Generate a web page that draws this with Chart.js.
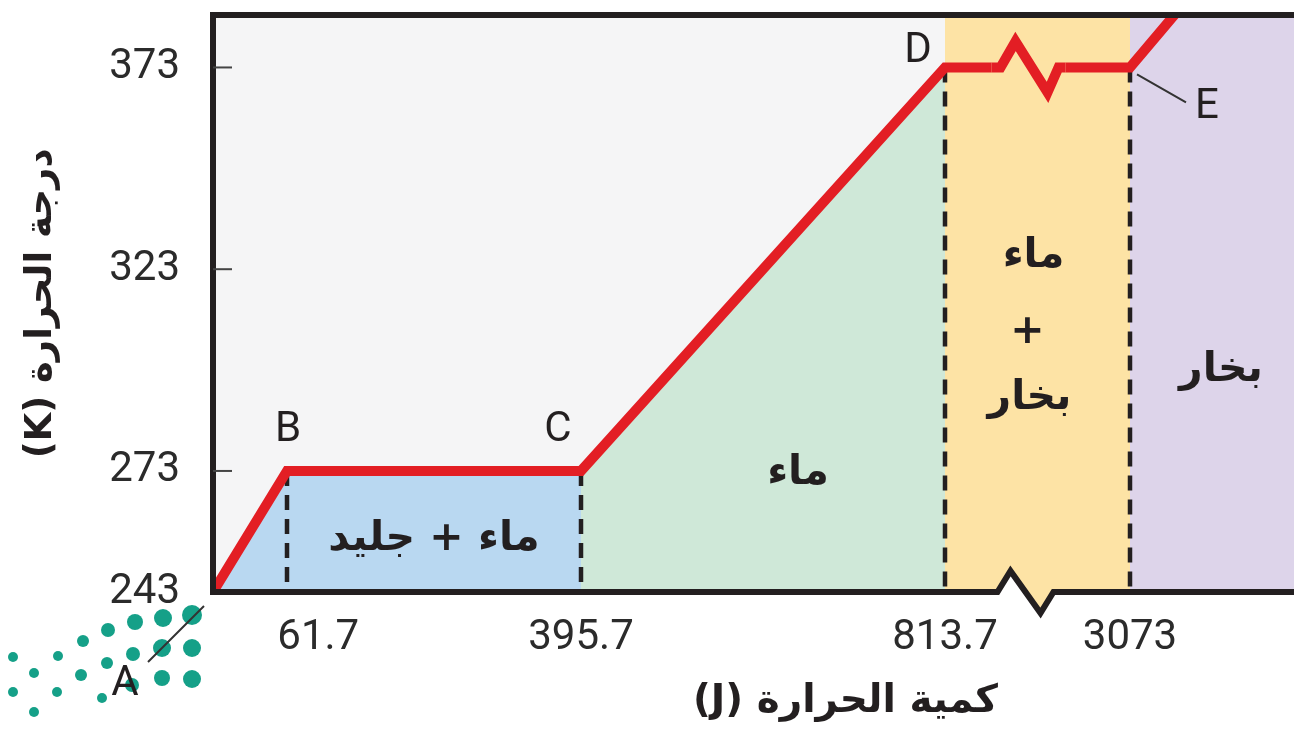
<!DOCTYPE html>
<html lang="ar">
<head>
<meta charset="UTF-8">
<title>منحنى تسخين الماء</title>
<script src="https://cdn.jsdelivr.net/npm/chart.js@4"></script>
<style>
  html, body { margin: 0; padding: 0; background: #fff; }
  #wrap { width: 1294px; height: 732px; }
</style>
</head>
<body>
<div id="wrap"><canvas id="heatChart"></canvas></div>
<script>
// قيم المنحنى (كمية الحرارة J ودرجة الحرارة K)
const heatTicks = [61.7, 395.7, 813.7, 3073];
const tempTicks = [243, 273, 323, 373];
const curveHeat = [0, 61.7, 395.7, 813.7, 3073, 3110];
const curveTemp = [243, 273, 273, 373, 373, 387];
const pointNames = ['A', 'B', 'C', 'D', 'E'];
const phaseNames = ['ماء + جليد', 'ماء', 'ماء', '+', 'بخار', 'بخار'];

// المحور الأفقي مكسور بين 813.7 و 3073
const breakHeat = [0, 61.7, 395.7, 813.7, 3073, 3200];
const breakAxis = [0, 74, 368, 732, 917, 1081];
const yMin = 243, yTop = 386;

function toAxis(q) {
  let i = 1;
  while (i < breakHeat.length - 1 && q > breakHeat[i]) i++;
  const h0 = breakHeat[i - 1], h1 = breakHeat[i];
  const a0 = breakAxis[i - 1], a1 = breakAxis[i];
  return a0 + (q - h0) * (a1 - a0) / (h1 - h0);
}
const xMax = breakAxis[breakAxis.length - 1];

const RED = '#e31e24', DARK = '#231f20', GREY = '#f5f5f6';
const BLUE = '#b9d8f1', GREEN = '#cfe8d8', ORANGE = '#fde3a5', PURPLE = '#ddd4ea';
const TEAL = '#15a088';

const pts = (from, to) => curveHeat.slice(from, to).map((h, i) => ({ x: toAxis(h), y: curveTemp[from + i] }));
const band = (h0, x1) => [{ x: toAxis(h0), y: yTop }, { x: x1, y: yTop }];

const dashData = [];
heatTicks.forEach(h => {
  const t = curveTemp[curveHeat.indexOf(h)];
  dashData.push({ x: toAxis(h), y: t }, { x: toAxis(h), y: yMin }, { x: toAxis(h), y: null });
});

const fillSet = (data, color, order) => ({
  data, fill: 'start', backgroundColor: color, borderColor: 'rgba(0,0,0,0)', borderWidth: 0, pointRadius: 0, order
});

// الزخارف: علامات الكسر والإطار والتسميات
const decor = {
  id: 'decor',
  afterDatasetsDraw(chart) {
    const { ctx, chartArea: a, scales: { x, y } } = chart;
    const X = q => x.getPixelForValue(toAxis(q));
    const Y = t => y.getPixelForValue(t);
    const cx = (X(813.7) + X(3073)) / 2;
    const yp = Y(373);
    ctx.save();

    // كسر الخط الأحمر
    ctx.fillStyle = ORANGE;
    ctx.fillRect(cx - 46, yp - 7, 74, 14);
    ctx.beginPath();
    ctx.moveTo(cx - 46, yp);
    ctx.lineTo(cx - 37, yp);
    ctx.lineTo(cx - 22, yp - 26);
    ctx.lineTo(cx + 10, yp + 25);
    ctx.lineTo(cx + 21, yp);
    ctx.lineTo(cx + 28, yp);
    ctx.strokeStyle = RED; ctx.lineWidth = 10; ctx.lineJoin = 'miter';
    ctx.stroke();

    // الإطار مع كسر المحور
    const b = a.bottom;
    ctx.fillStyle = '#fff';
    ctx.beginPath(); ctx.moveTo(cx - 40, b); ctx.lineTo(cx - 27, b - 21); ctx.lineTo(cx - 12, b); ctx.fill();
    ctx.fillStyle = ORANGE;
    ctx.beginPath(); ctx.moveTo(cx - 12, b); ctx.lineTo(cx + 3, b + 21); ctx.lineTo(cx + 16, b); ctx.fill();
    ctx.strokeStyle = DARK; ctx.lineWidth = 6;
    ctx.beginPath();
    ctx.moveTo(a.left, a.top); ctx.lineTo(a.right + 4, a.top);
    ctx.moveTo(a.left, a.top - 3); ctx.lineTo(a.left, b + 3);
    ctx.moveTo(a.left - 3, b); ctx.lineTo(cx - 40, b); ctx.lineTo(cx - 27, b - 21);
    ctx.lineTo(cx + 3, b + 21); ctx.lineTo(cx + 16, b); ctx.lineTo(a.right + 4, b);
    ctx.stroke();

    // علامات المحور الرأسي الداخلية
    ctx.lineWidth = 2; ctx.strokeStyle = '#444';
    tempTicks.filter(t => t > yMin).forEach(t => {
      ctx.beginPath(); ctx.moveTo(a.left, Y(t)); ctx.lineTo(a.left + 19, Y(t)); ctx.stroke();
    });

    // خطوط الإشارة
    ctx.lineWidth = 2; ctx.strokeStyle = '#333';
    ctx.beginPath();
    ctx.moveTo(X(3073) + 7, yp + 7); ctx.lineTo(X(3073) + 56, yp + 35);
    ctx.moveTo(X(0) - 65, Y(243) + 70); ctx.lineTo(X(0) - 9, Y(243) + 14);
    ctx.stroke();

    // أسماء النقاط
    ctx.fillStyle = DARK;
    ctx.font = '42px Roboto';
    ctx.textAlign = 'center'; ctx.textBaseline = 'middle';
    const labelPos = [
      [X(0) - 88, Y(243) + 92],
      [X(61.7) + 1, Y(273) - 40],
      [X(395.7) - 23, Y(273) - 40],
      [X(813.7) - 27, Y(373) - 16],
      [X(3073) + 77, Y(373) + 40]
    ];
    pointNames.forEach((n, i) => ctx.fillText(n, labelPos[i][0], labelPos[i][1]));

    // أسماء الأطوار
    ctx.direction = 'rtl';
    ctx.font = 'bold 41px "DejaVu Sans"';
    ctx.fillText(phaseNames[0], (X(61.7) + X(395.7)) / 2, Y(256));
    ctx.fillText(phaseNames[1], (X(395.7) + X(813.7)) / 2 + 35, Y(273) + 2);
    ctx.fillText(phaseNames[2], cx - 4, 256);
    ctx.fillText(phaseNames[3], cx - 10, 332);
    ctx.fillText(phaseNames[4], cx - 8, 398);
    ctx.fillText(phaseNames[5], (X(3073) + a.right) / 2 + 9, 370);

    // عنوان المحور الأفقي
    ctx.font = 'bold 39px "DejaVu Sans"';
    ctx.fillText('كمية الحرارة (J)', a.left + 0.585 * (a.right - a.left), 702);
    ctx.restore();

    // الشعار
    const dots = [[192,615,10],[163,618,9],[135,622,8],[108,630,7],[83,641,6],[58,656,5],[13,657,5],
      [192,648,9],[162,648,9],[133,654,7],[107,663,6],[81,675,6],[34,673,5],
      [192,679,9],[162,678,8],[132,685,7],[102,698,5],[57,692,5],[13,692,5],[34,712,5]];
    ctx.save();
    ctx.globalCompositeOperation = 'destination-over';
    ctx.fillStyle = TEAL;
    dots.forEach(([dx, dy, r]) => { ctx.beginPath(); ctx.arc(dx, dy, r, 0, Math.PI * 2); ctx.fill(); });
    ctx.restore();
  }
};

new Chart(document.getElementById('heatChart'), {
  type: 'line',
  data: {
    datasets: [
      fillSet(band(0, toAxis(813.7)), GREY, 9),
      fillSet(pts(0, 3), BLUE, 8),
      fillSet(pts(2, 4), GREEN, 8),
      fillSet(band(813.7, toAxis(3073)), ORANGE, 8),
      fillSet(band(3073, xMax), PURPLE, 8),
      {
        data: dashData, borderColor: DARK, borderWidth: 4.5, borderDash: [15, 9],
        pointRadius: 0, spanGaps: false, fill: false, order: 2
      },
      {
        data: pts(0, curveHeat.length), borderColor: RED, borderWidth: 10,
        borderJoinStyle: 'miter', pointRadius: 0, fill: false, clip: 0, order: 1
      }
    ]
  },
  options: {
    responsive: true,
    maintainAspectRatio: false,
    animation: false,
    events: [],
    layout: { padding: { top: 15, left: 0, right: 0, bottom: 0 } },
    elements: { line: { tension: 0 } },
    plugins: { legend: { display: false }, tooltip: { enabled: false } },
    scales: {
      x: {
        type: 'linear', min: 0, max: xMax,
        grid: { display: false, drawTicks: false },
        border: { display: false },
        afterBuildTicks: s => { s.ticks = heatTicks.map(h => ({ value: toAxis(h) })); },
        afterFit: s => { s.height = 140; s.paddingLeft = 0; s.paddingRight = 0; },
        ticks: {
          autoSkip: false, maxRotation: 0, padding: 21, color: '#2b2b2b',
          font: { family: 'Roboto', size: 42 },
          callback: (v, i) => (i === 0 ? '      ' : '') + heatTicks[i]
        }
      },
      y: {
        type: 'linear', min: yMin, max: yTop,
        grid: { display: false, drawTicks: false },
        border: { display: false },
        afterBuildTicks: s => { s.ticks = tempTicks.map(t => ({ value: t })); },
        afterFit: s => { s.width = 213; s.paddingTop = 0; s.paddingBottom = 0; },
        ticks: {
          padding: 33, color: '#2b2b2b',
          font: { family: 'Roboto', size: 42 },
          callback: v => String(v)
        },
        title: {
          display: true, text: '\u2067درجة الحرارة (K)\u2069', color: DARK,
          font: { family: 'DejaVu Sans', size: 37, weight: 'bold' },
          padding: { top: 19, bottom: 0 }
        }
      }
    }
  },
  plugins: [decor]
});
</script>
</body>
</html>
